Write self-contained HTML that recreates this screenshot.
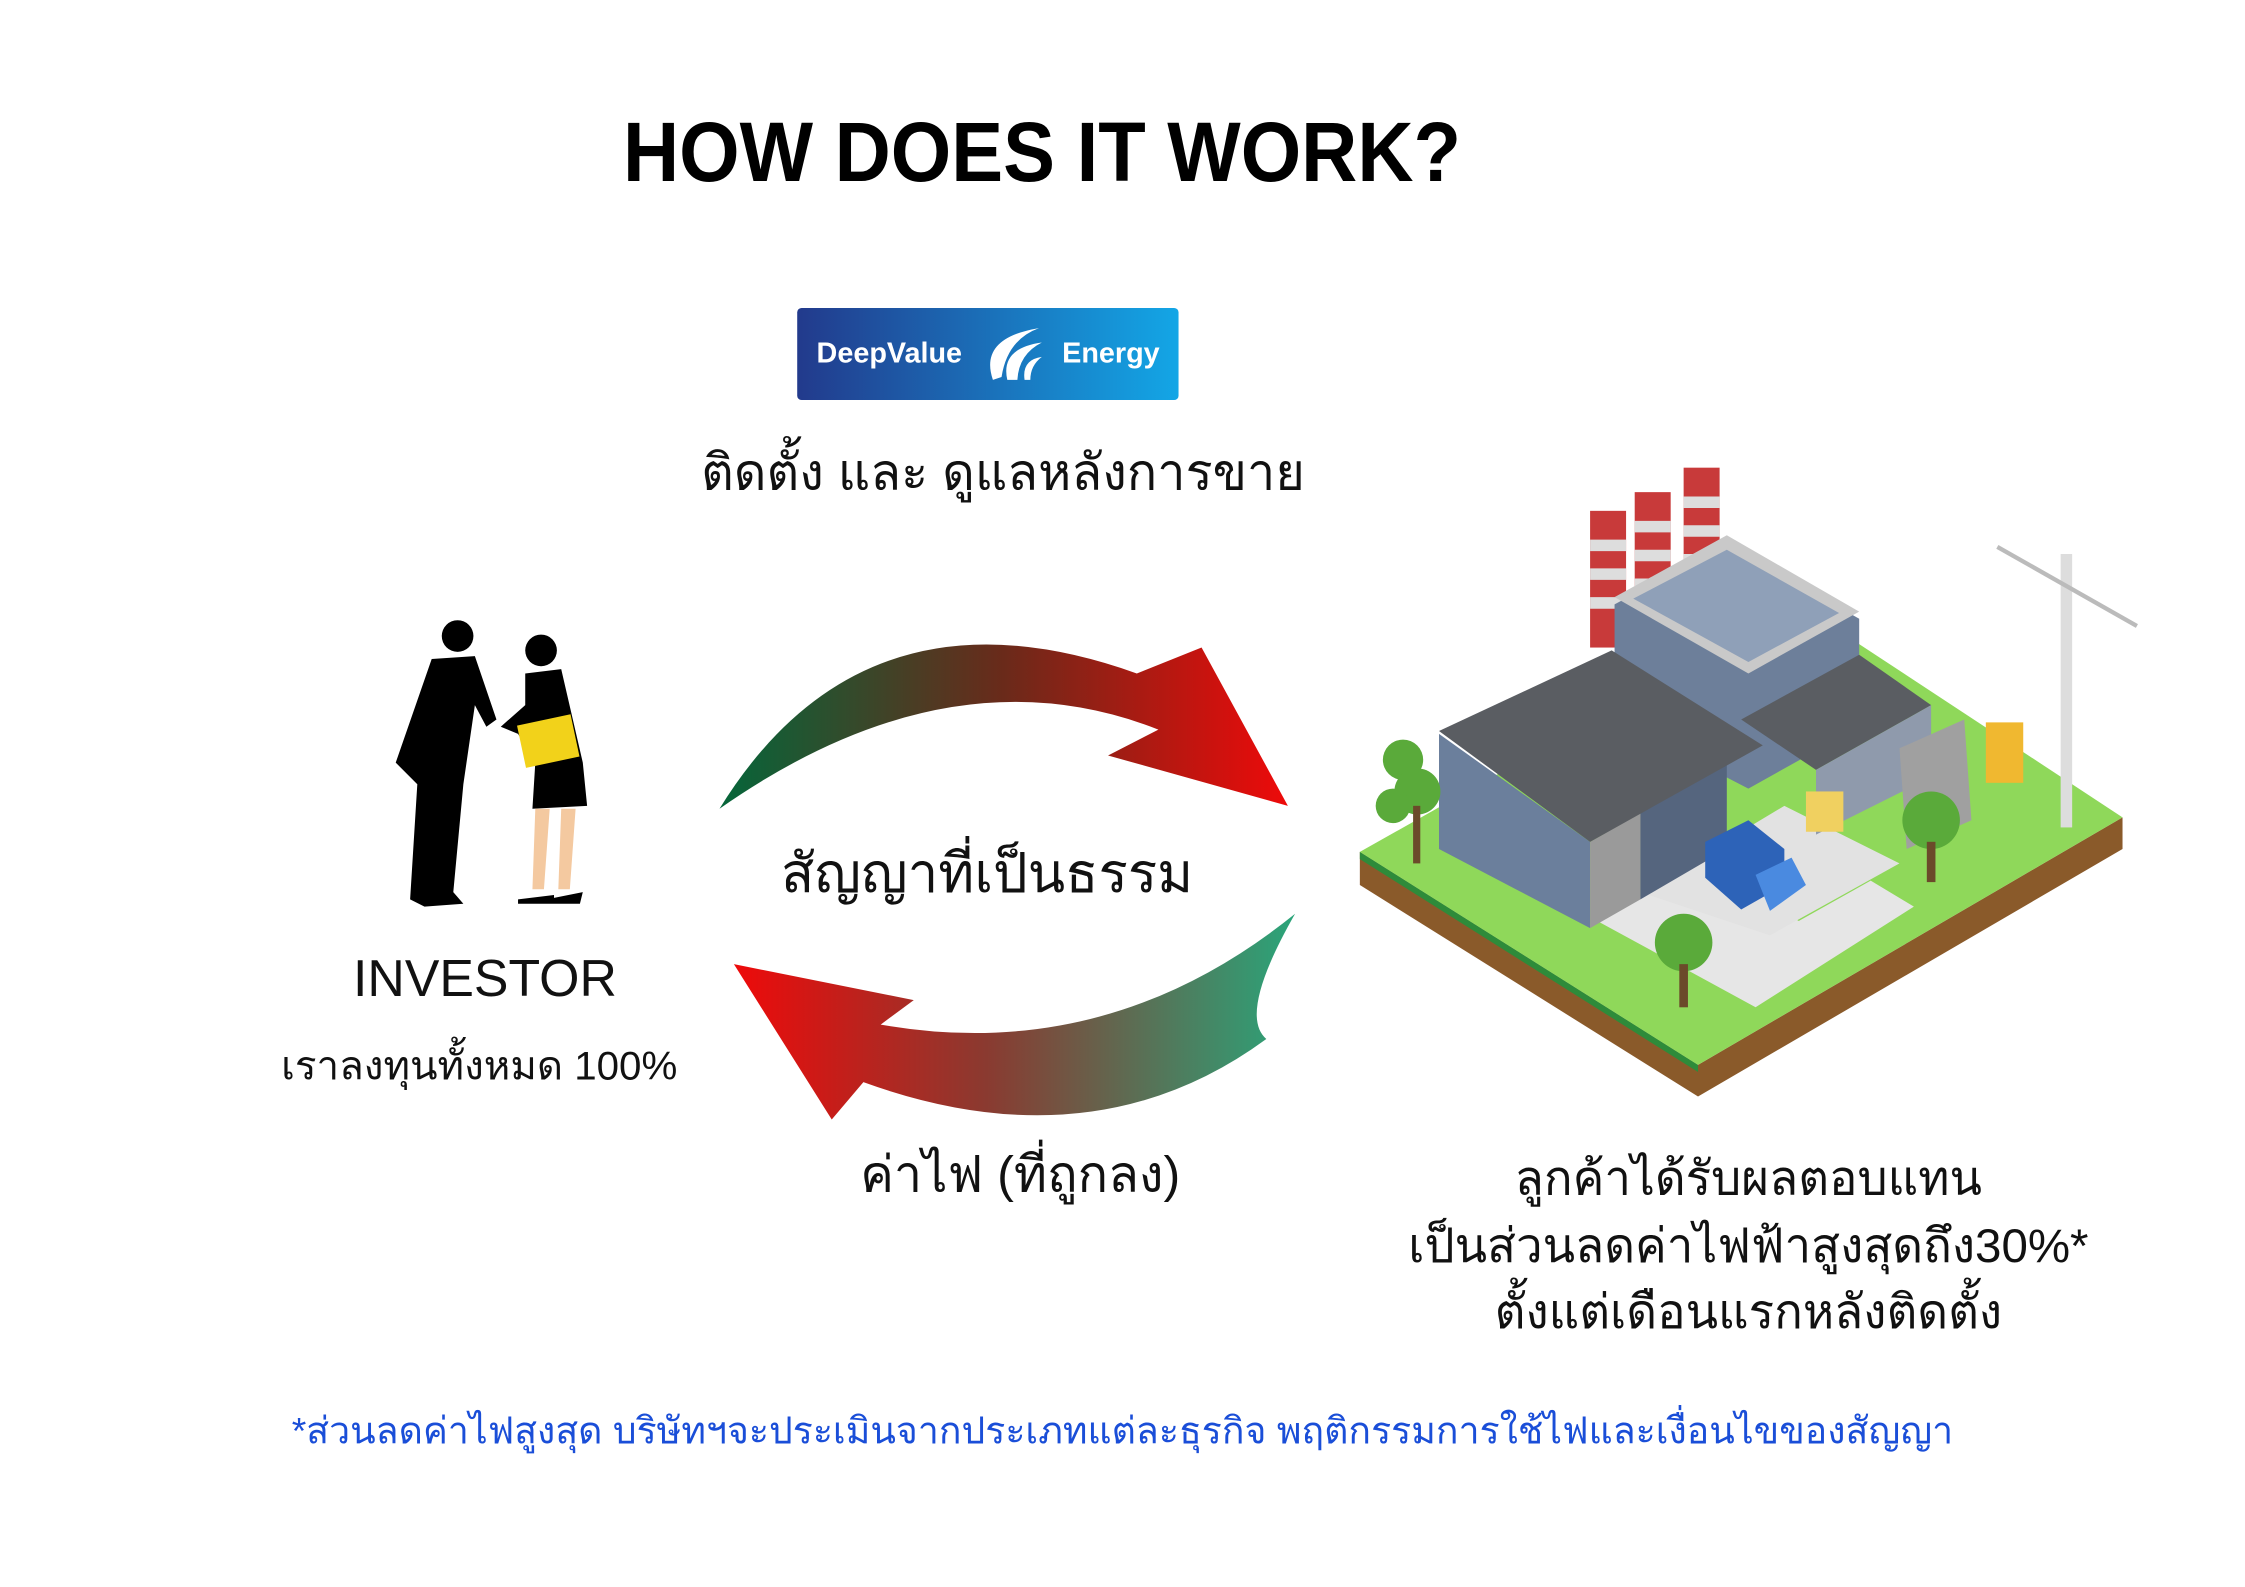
<!DOCTYPE html>
<html><head><meta charset="utf-8"><style>
html,body{margin:0;padding:0;background:#fff;}
body{width:2245px;height:1587px;overflow:hidden;}
svg{display:block}
text{font-family:"Liberation Sans","Noto Sans CJK SC",sans-serif;}
</style></head><body>
<svg width="2245" height="1587" viewBox="0 0 2245 1587" xmlns="http://www.w3.org/2000/svg">
<defs>
<linearGradient id="lg" x1="0" x2="1"><stop offset="0" stop-color="#223a8c"/><stop offset="1" stop-color="#13a6e6"/></linearGradient>
<linearGradient id="ga" x1="0" x2="1"><stop offset="0" stop-color="#05663a"/><stop offset="0.5" stop-color="#6a2a1a"/><stop offset="1" stop-color="#ee0a0a"/></linearGradient>
<linearGradient id="gb" x1="0" x2="1"><stop offset="0" stop-color="#ee0a0a"/><stop offset="0.45" stop-color="#8a3a30"/><stop offset="1" stop-color="#2aa57a"/></linearGradient>
</defs>
<rect width="2245" height="1587" fill="#fff"/>
<text x="623" y="181" font-size="84" font-weight="bold" fill="#000" textLength="838" lengthAdjust="spacingAndGlyphs">HOW DOES IT WORK?</text>
<g transform="scale(1.439)">
<rect x="554" y="214" width="265" height="64" rx="3" fill="url(#lg)"/>
<text x="618" y="252" font-size="20" font-weight="bold" fill="#fff" text-anchor="middle">DeepValue</text>
<text x="772" y="252" font-size="20" font-weight="bold" fill="#fff" text-anchor="middle">Energy</text>
<path d="M690,264 Q680,235 722,228 Q700,236 696,262 Z M700,264 Q695,242 724,238 Q708,246 707,264 Z M712,264 Q710,250 724,248 Q716,254 716,264 Z" fill="#fff"/>
<text x="697" y="340" font-size="35" text-anchor="middle" fill="#111">ติดตั้ง และ ดูแลหลังการขาย</text>

<path d="M500,562 Q600,400 790,468 L835,450 L895,560 L770,525 L805,507 Q660,450 500,562 Z" fill="url(#ga)"/>
<path d="M900,635 Q860,705 880,722 Q760,810 600,752 L578,778 L510,670 L635,695 L612,712 Q770,740 900,635 Z" fill="url(#gb)"/>
<text x="686" y="620" font-size="38" text-anchor="middle" fill="#111">สัญญาที่เป็นธรรม</text>
<text x="709" y="828" font-size="35" text-anchor="middle" fill="#111">ค่าไฟ (ที่ถูกลง)</text>

<circle cx="318" cy="442" r="11" fill="#000"/>
<path d="M300,458 L330,456 L345,500 L338,505 L330,490 L322,545 L315,620 L322,628 L295,630 L285,625 L290,545 L275,530 Z" fill="#000"/>
<circle cx="376" cy="452" r="11" fill="#000"/>
<path d="M365,468 L390,465 L405,530 L408,560 L370,562 L372,530 L360,510 L348,505 L365,490 Z" fill="#000"/>
<rect x="362" y="500" width="38" height="30" fill="#f2d21a" transform="rotate(-12 381 515)"/>
<path d="M372,562 L382,562 L378,618 L370,618 Z M390,562 L400,562 L396,618 L388,618 Z" fill="#f4c9a0"/>
<path d="M360,625 L385,622 L385,628 L360,628 Z M385,624 L405,620 L403,628 L385,628 Z" fill="#000"/>
<text x="337" y="692" font-size="36" text-anchor="middle" fill="#111">INVESTOR</text>
<text x="333" y="750" font-size="28" text-anchor="middle" fill="#111">เราลงทุนทั้งหมด 100%</text>

<path d="M945,592 L945,615 L1180,762 L1475,590 L1475,568 L1180,740 Z" fill="#8a5a2a"/>
<path d="M945,592 L1180,740 L1180,745 L945,597 Z" fill="#2e8b3a"/>
<path d="M945,592 L1250,420 L1475,568 L1180,740 Z" fill="#8fd85a"/>
<path d="M1110,640 L1180,600 L1250,640 L1300,612 L1330,630 L1220,700 Z" fill="#e6e6e6"/>
<path d="M1140,620 L1240,560 L1320,600 L1230,650 Z" fill="#e2e2e2"/>
<rect x="1105" y="355" width="25" height="95" fill="#c83a3a"/>
<rect x="1136" y="342" width="25" height="95" fill="#c83a3a"/>
<rect x="1170" y="325" width="25" height="95" fill="#c83a3a"/>
<path d="M1105,375h25v8h-25zM1105,395h25v8h-25zM1105,415h25v8h-25zM1136,362h25v8h-25zM1136,382h25v8h-25zM1136,402h25v8h-25zM1170,345h25v8h-25zM1170,365h25v8h-25zM1170,385h25v8h-25z" fill="#ddd"/>
<path d="M1122,420 L1200,378 L1292,430 L1292,505 L1215,548 L1122,500 Z" fill="#6d7f9a"/>
<path d="M1122,415 L1200,372 L1292,425 L1215,468 Z" fill="#c9c9c9"/>
<path d="M1135,416 L1200,382 L1278,426 L1215,460 Z" fill="#8fa0b8"/>
<path d="M1000,510 L1000,590 L1105,645 L1105,585 Z" fill="#6b7f9c"/>
<path d="M1105,585 L1140,565 L1140,625 L1105,645 Z" fill="#9a9a9a"/>
<path d="M1140,565 L1200,530 L1200,590 L1140,625 Z" fill="#55657e"/>
<path d="M1000,508 L1120,452 L1225,518 L1105,585 Z" fill="#5a5d62"/>
<path d="M1210,500 L1292,455 L1342,490 L1262,535 Z" fill="#5a5d62"/>
<path d="M1262,535 L1342,490 L1342,540 L1262,580 Z" fill="#8f9aac"/>
<path d="M1320,520 L1365,500 L1370,570 L1325,590 Z" fill="#a0a0a0"/>
<rect x="1380" y="502" width="26" height="42" fill="#f0b830"/>
<rect x="1255" y="550" width="26" height="28" fill="#f0d060"/>
<path d="M1185,585 L1215,570 L1240,590 L1240,615 L1210,632 L1185,610 Z" fill="#2d63b8"/>
<path d="M1220,608 L1245,596 L1255,615 L1230,633 Z" fill="#4a8ae0"/>
<rect x="1432" y="385" width="8" height="190" fill="#ddd"/>
<path d="M1388,380 L1485,435" stroke="#bbb" stroke-width="3"/>
<g fill="#5aaa3a"><circle cx="975" cy="528" r="14"/><circle cx="985" cy="550" r="16"/><circle cx="968" cy="560" r="12"/><circle cx="1170" cy="655" r="20"/><circle cx="1342" cy="570" r="20"/></g>
<g fill="#6b4a2a"><rect x="982" y="560" width="5" height="40"/><rect x="1167" y="670" width="6" height="30"/><rect x="1339" y="585" width="6" height="28"/></g>

<text x="1215" y="830" font-size="33" text-anchor="middle" fill="#111">ลูกค้าได้รับผลตอบแทน</text>
<text x="1215" y="877" font-size="33" text-anchor="middle" fill="#111">เป็นส่วนลดค่าไฟฟ้าสูงสุดถึง30%*</text>
<text x="1215" y="923" font-size="33" text-anchor="middle" fill="#111">ตั้งแต่เดือนแรกหลังติดตั้ง</text>
<text x="780" y="1003" font-size="26" text-anchor="middle" fill="#1a4ed8">*ส่วนลดค่าไฟสูงสุด  บริษัทฯจะประเมินจากประเภทแต่ละธุรกิจ พฤติกรรมการใช้ไฟและเงื่อนไขของสัญญา</text>
</g>
</svg>
</body></html>
